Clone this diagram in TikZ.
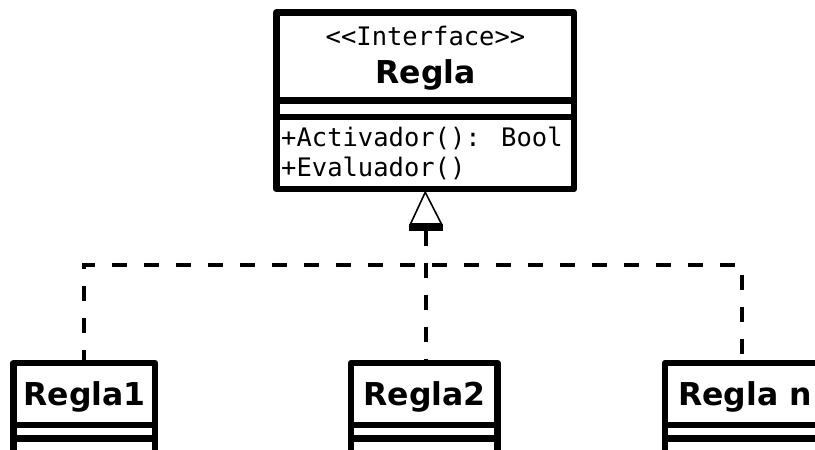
\documentclass[tikz,border=0pt]{standalone}
\usepackage{fontspec}
\setmainfont{DejaVu Sans}
\newfontfamily\membfont{DejaVu Sans Mono}
\begin{document}
\begin{tikzpicture}[x=1pt,y=-1pt,
  classbox/.style={draw=black,line width=6.5pt,line join=round,fill=white,inner sep=0pt},
  divider/.style={line width=6.5pt},
  classname/.style={font=\fontsize{31.5}{36}\selectfont\bfseries,anchor=base,inner sep=0pt},
  member/.style={font=\membfont\fontsize{25.5}{30}\selectfont,anchor=base west,inner sep=0pt},
  realize/.style={line width=3.5pt,dash pattern=on 15pt off 17pt},
  hollowtip/.style={line width=1.6pt,line join=miter,fill=white},
  tipbase/.style={line width=7pt}]
\useasboundingbox (0,0) rectangle (815,450);

% interface Regla
\node[classbox,minimum width=297.5pt,minimum height=176.5pt] (regla) at (425.25,100.75) {};
\node[font=\membfont\fontsize{25.5}{30}\selectfont,anchor=base,inner sep=0pt] (stereo) at (425.5,45) {<<Interface>>};
\node[classname] (reglaname) at (425.5,83) {Regla};
\draw[divider] (regla.west |- 0,100.5) -- (regla.east |- 0,100.5);
\draw[divider] (regla.west |- 0,117) -- (regla.east |- 0,117);
\node[member] (m1) at (281,146) {+Activador(): Bool};
\node[member] (m2) at (281,176) {+Evaluador()};

% implementing classes
\node[classbox,minimum width=141.5pt,minimum height=120pt] (r1) at (84.25,423) {};
\node[classbox,minimum width=146.5pt,minimum height=120pt] (r2) at (424.25,423) {};
\node[classbox,minimum width=160pt,minimum height=120pt] (rn) at (745,423) {};
\foreach \b/\l/\r in {r1/13.5/155,r2/351/497.5,rn/665/825}{
  \draw[divider] (\l,425) -- (\r,425);
  \draw[divider] (\l,438.5) -- (\r,438.5);
}
\node[classname] (r1name) at (84.5,405) {Regla1};
\node[classname] (r2name) at (424.5,405) {Regla2};
\node[classname] (rnname) at (745,405) {Regla n};

% realization arrow head under the interface
\coordinate (apex) at (regla.south);
\coordinate (tipl) at (410.5,224);
\coordinate (tipr) at (441.5,224);
\draw[hollowtip] (apex) -- (tipl) -- (tipr) -- cycle;
\draw[tipbase] (409,227) -- (443,227);
\coordinate (tail) at (426,230.5);

% dashed realization connectors
\coordinate (bendl) at (84,265);
\coordinate (bendr) at (742,265);
\draw[realize] (tail) -- (r2.north -| tail);
\draw[realize,dash phase=5pt] (r1.north -| bendl) -- (bendl) -- (bendr) -- (rn.north -| bendr);
\end{tikzpicture}
\end{document}
